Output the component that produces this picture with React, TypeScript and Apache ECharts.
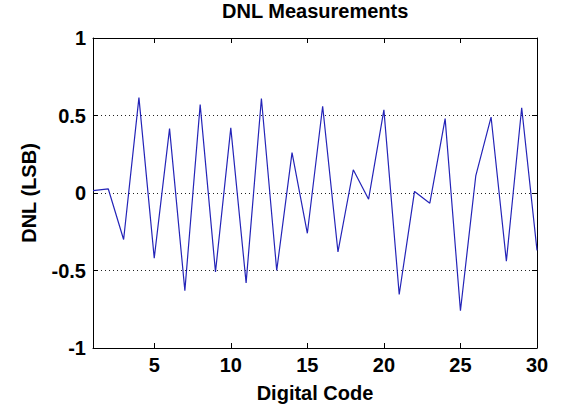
import React, { useEffect, useRef } from "react";
import * as echarts from "echarts";

const codes = [1, 2, 3, 4, 5, 6, 7, 8, 9, 10, 11, 12, 13, 14, 15, 16, 17, 18, 19, 20, 21, 22, 23, 24, 25, 26, 27, 28, 29, 30];
const dnl = [0.015, 0.026, -0.3, 0.615, -0.42, 0.415, -0.63, 0.57, -0.51, 0.42, -0.58, 0.61, -0.5, 0.26, -0.26, 0.56, -0.38, 0.15, -0.04, 0.536, -0.655, 0.01, -0.066, 0.48, -0.76, 0.11, 0.49, -0.44, 0.55, -0.37];
const xTicks = [5, 10, 15, 20, 25, 30];
const yTicks = [-1, -0.5, 0, 0.5, 1];

const FONT = "'Liberation Sans', Arial, sans-serif";

export default function App() {
  const ref = useRef<HTMLDivElement>(null);
  useEffect(() => {
    document.body.style.margin = "0";
    const chart = echarts.init(ref.current!, null, { renderer: "svg" });
    const labelStyle = { color: "#000", fontFamily: FONT, fontWeight: "bold" as const, fontSize: 20 };
    chart.setOption({
      animation: false,
      backgroundColor: "#fff",
      title: {
        text: "DNL Measurements",
        left: 222,
        top: 1,
        padding: 0,
        textStyle: { ...labelStyle, fontSize: 20 },
      },
      grid: { left: 93, right: 24, top: 38, bottom: 58, containLabel: false },
      xAxis: [
        {
          type: "value",
          min: 1,
          max: 30,
          position: "bottom",
          name: "Digital Code",
          nameLocation: "middle",
          nameGap: 35,
          nameTextStyle: labelStyle,
          axisLine: { show: true, onZero: false, lineStyle: { color: "#000", width: 1 } },
          axisTick: { show: true, inside: true, length: 5, customValues: xTicks, lineStyle: { color: "#000" } },
          axisLabel: { ...labelStyle, margin: 7, customValues: xTicks },
          splitLine: { show: false },
        },
        {
          type: "value",
          min: 1,
          max: 30,
          position: "top",
          axisLine: { show: true, onZero: false, lineStyle: { color: "#000", width: 1 } },
          axisTick: { show: true, inside: true, length: 5, customValues: xTicks, lineStyle: { color: "#000" } },
          axisLabel: { show: false },
          splitLine: { show: false },
        },
      ],
      yAxis: [
        {
          type: "value",
          min: -1,
          max: 1,
          interval: 0.5,
          position: "left",
          name: "DNL (LSB)",
          nameLocation: "middle",
          nameGap: 54,
          nameTextStyle: labelStyle,
          axisLine: { show: true, onZero: false, lineStyle: { color: "#000", width: 1 } },
          axisTick: { show: true, inside: true, length: 5, lineStyle: { color: "#000" } },
          axisLabel: { ...labelStyle, margin: 7, customValues: yTicks },
          splitLine: { show: true, lineStyle: { color: "#222", width: 1, type: [1, 3] } },
        },
        {
          type: "value",
          min: -1,
          max: 1,
          interval: 0.5,
          position: "right",
          axisLine: { show: true, onZero: false, lineStyle: { color: "#000", width: 1 } },
          axisTick: { show: true, inside: true, length: 5, lineStyle: { color: "#000" } },
          axisLabel: { show: false },
          splitLine: { show: false },
        },
      ],
      series: [
        {
          type: "line",
          xAxisIndex: 0,
          yAxisIndex: 0,
          data: codes.map((c, i) => [c, dnl[i]]),
          showSymbol: false,
          symbol: "none",
          lineStyle: { color: "#2424b8", width: 1.2 },
          itemStyle: { color: "#2424b8" },
        },
      ],
    });
    return () => chart.dispose();
  }, []);
  return <div ref={ref} style={{ width: 561, height: 408 }} />;
}
